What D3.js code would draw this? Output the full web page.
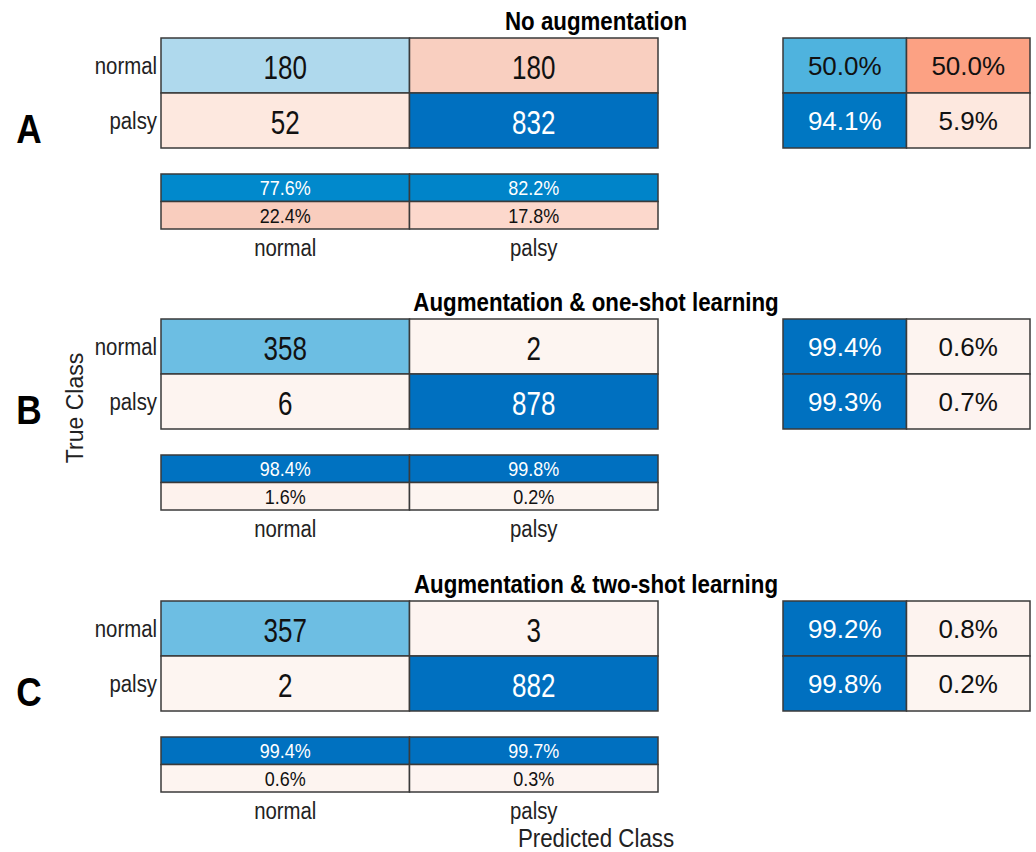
<!DOCTYPE html>
<html lang="en">
<head>
<meta charset="UTF-8">
<title>Confusion matrices</title>
<script src="https://d3js.org/d3.v7.min.js"></script>
<style>
  body { margin: 0; background: #fff; }
  svg text { font-family: "Liberation Sans", Arial, sans-serif; }
</style>
</head>
<body>
<div id="chart"></div>
<script>
// class labels and panel texts
const classes = ["normal", "palsy"];
const outcomes = ["correct", "incorrect"];
const panelLetters = ["A", "B", "C"];
const panelTitles = ["No augmentation", "Augmentation & one-shot learning", "Augmentation & two-shot learning"];

// confusion counts [true row][predicted col]
const countsA = [[180, 180], [52, 832]];
const countsB = [[358, 2], [6, 878]];
const countsC = [[357, 3], [2, 882]];

// column summary (per predicted class): [correct row, incorrect row]
const colPctA = [[77.6, 82.2], [22.4, 17.8]];
const colPctB = [[98.4, 99.8], [1.6, 0.2]];
const colPctC = [[99.4, 99.7], [0.6, 0.3]];

// row summary (per true class): [correct, incorrect]
const rowPctA = [[50.0, 50.0], [94.1, 5.9]];
const rowPctB = [[99.4, 0.6], [99.3, 0.7]];
const rowPctC = [[99.2, 0.8], [99.8, 0.2]];

const panels = [
  { letter: panelLetters[0], title: panelTitles[0], counts: countsA, colPct: colPctA, rowPct: rowPctA },
  { letter: panelLetters[1], title: panelTitles[1], counts: countsB, colPct: colPctB, rowPct: rowPctB },
  { letter: panelLetters[2], title: panelTitles[2], counts: countsC, colPct: colPctC, rowPct: rowPctC }
];

const W = 1036, H = 852;
const svg = d3.select("#chart").append("svg")
  .attr("width", W).attr("height", H);

// colour ramps (fraction 0..1)
const blue = d3.scaleLinear()
  .domain([0, 0.2, 0.4, 0.5, 0.78, 0.94, 1])
  .range(["#eef6fb", "#b5dbee", "#6ebfe3", "#4fb3de", "#0088cc", "#0077c2", "#0070c0"])
  .clamp(true);
const red = d3.scaleLinear()
  .domain([0, 0.06, 0.18, 0.22, 0.5])
  .range(["#fdf5f2", "#fde8df", "#fcd8cc", "#f9cebf", "#fca183"])
  .clamp(true);
const ink = f => f > 0.7 ? "#ffffff" : "#111111";

const x = d3.scaleBand().domain(classes).range([161, 658]);
const xs = d3.scaleBand().domain(outcomes).range([783, 1030]);
const panelTop = d3.scaleOrdinal().domain(panelLetters).range([38, 319, 601]);
const stroke = "#3a3a3a";

panels.forEach(p => {
  const top = panelTop(p.letter);
  const g = svg.append("g");
  const y = d3.scaleBand().domain(classes).range([top, top + 110]);
  const ys = d3.scaleBand().domain(outcomes).range([top + 136, top + 191]);
  const maxCount = d3.max(p.counts.flat());

  // title
  g.append("text")
    .attr("transform", `translate(596,${top - 8}) scale(0.97,1.12)`)
    .attr("text-anchor", "middle")
    .attr("font-size", 23).attr("font-weight", "bold")
    .text(p.title);

  // panel letter
  g.append("text")
    .attr("transform", `translate(29,${top + 105}) scale(0.86,1)`)
    .attr("text-anchor", "middle")
    .attr("font-size", 41).attr("font-weight", "bold")
    .text(p.letter);

  // main matrix
  const cells = [];
  classes.forEach((r, i) => classes.forEach((c, j) => {
    const v = p.counts[i][j];
    const f = v / maxCount;
    cells.push({ r, c, v, f, diag: i === j });
  }));
  const cg = g.selectAll(".cell").data(cells).enter().append("g");
  cg.append("rect")
    .attr("x", d => x(d.c)).attr("y", d => y(d.r))
    .attr("width", x.bandwidth()).attr("height", y.bandwidth())
    .attr("fill", d => d.diag ? blue(d.f) : red(d.f))
    .attr("stroke", stroke).attr("stroke-width", 1.5);
  cg.append("text")
    .attr("transform", d => `translate(${x(d.c) + x.bandwidth() / 2},${y(d.r) + y.bandwidth() / 2 + 13}) scale(1,1.3)`)
    .attr("text-anchor", "middle").attr("font-size", 26)
    .attr("fill", d => d.diag ? ink(d.f) : "#111")
    .text(d => d.v);

  // row labels
  g.selectAll(".rl").data(classes).enter().append("text")
    .attr("transform", d => `translate(157,${y(d) + y.bandwidth() / 2 + 8}) scale(0.97,1.18)`)
    .attr("text-anchor", "end").attr("font-size", 21).attr("fill", "#222")
    .text(d => d);

  // column summary
  const colCells = [];
  outcomes.forEach((o, i) => classes.forEach((c, j) => {
    const v = p.colPct[i][j];
    colCells.push({ o, c, v, f: v / 100, ok: i === 0 });
  }));
  const sg = g.selectAll(".cs").data(colCells).enter().append("g");
  sg.append("rect")
    .attr("x", d => x(d.c)).attr("y", d => ys(d.o))
    .attr("width", x.bandwidth()).attr("height", ys.bandwidth())
    .attr("fill", d => d.ok ? blue(d.f) : red(d.f))
    .attr("stroke", stroke).attr("stroke-width", 1.5);
  sg.append("text")
    .attr("transform", d => `translate(${x(d.c) + x.bandwidth() / 2},${ys(d.o) + ys.bandwidth() / 2 + 7.5}) scale(1,1.15)`)
    .attr("text-anchor", "middle").attr("font-size", 18)
    .attr("fill", d => d.ok ? ink(d.f) : "#111")
    .text(d => d.v.toFixed(1) + "%");

  // column labels
  g.selectAll(".cl").data(classes).enter().append("text")
    .attr("transform", d => `translate(${x(d) + x.bandwidth() / 2},${top + 218}) scale(0.97,1.18)`)
    .attr("text-anchor", "middle").attr("font-size", 21).attr("fill", "#222")
    .text(d => d);

  // row summary
  const rowCells = [];
  classes.forEach((r, i) => outcomes.forEach((o, j) => {
    const v = p.rowPct[i][j];
    rowCells.push({ r, o, v, f: v / 100, ok: j === 0 });
  }));
  const rg = g.selectAll(".rs").data(rowCells).enter().append("g");
  rg.append("rect")
    .attr("x", d => xs(d.o)).attr("y", d => y(d.r))
    .attr("width", xs.bandwidth()).attr("height", y.bandwidth())
    .attr("fill", d => d.ok ? blue(d.f) : red(d.f))
    .attr("stroke", stroke).attr("stroke-width", 1.5);
  rg.append("text")
    .attr("x", d => xs(d.o) + xs.bandwidth() / 2)
    .attr("y", d => y(d.r) + y.bandwidth() / 2 + 9.5)
    .attr("text-anchor", "middle").attr("font-size", 26)
    .attr("fill", d => d.ok ? ink(d.f) : "#111")
    .text(d => d.v.toFixed(1) + "%");
});

// axis titles
svg.append("text")
  .attr("transform", "translate(83,408) rotate(-90)")
  .attr("text-anchor", "middle").attr("font-size", 23).attr("fill", "#222")
  .text("True Class");
svg.append("text")
  .attr("transform", "translate(596,847) scale(0.97,1.1)")
  .attr("text-anchor", "middle").attr("font-size", 23).attr("fill", "#222")
  .text("Predicted Class");
</script>
</body>
</html>
